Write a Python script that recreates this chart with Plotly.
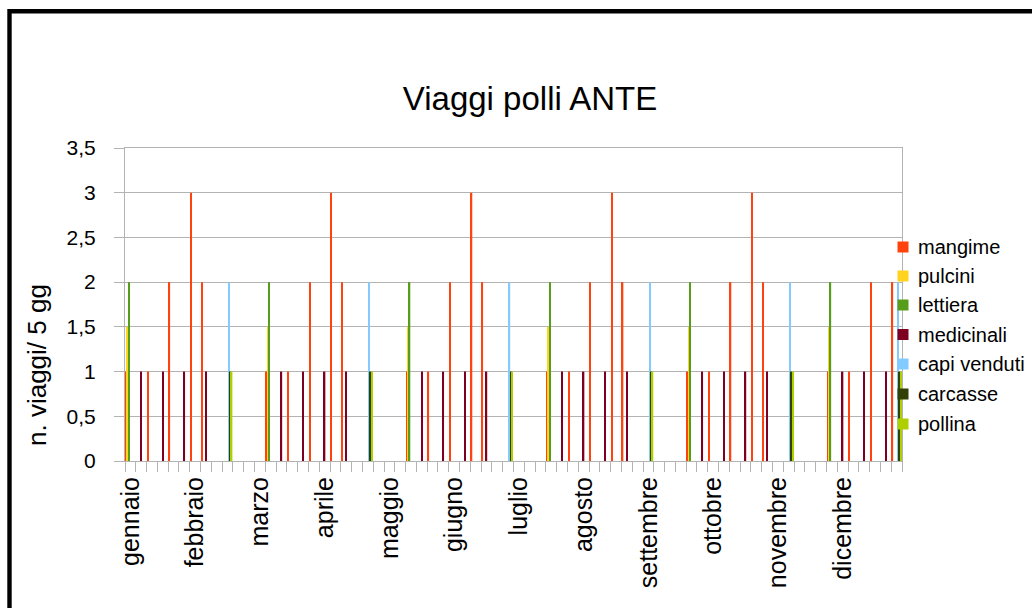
import plotly.graph_objects as go

# 72 periods of 5 days (6 per month)
periods = list(range(72))
month_labels = ["gennaio", "febbraio", "marzo", "aprile", "maggio", "giugno",
                "luglio", "agosto", "settembre", "ottobre", "novembre", "dicembre"]
month_ticks = [0, 6, 12, 18, 24, 30, 36, 42, 48, 54, 60, 66]

mangime = [1, 0, 1, 0, 2, 0, 3, 2, 0, 0, 0, 0, 0,
           1, 0, 1, 0, 2, 0, 3, 2, 0, 0, 0, 0, 0,
           1, 0, 1, 0, 2, 0, 3, 2, 0, 0, 0, 0, 0,
           1, 0, 1, 0, 2, 0, 3, 2, 0, 0, 0, 0, 0,
           1, 0, 1, 0, 2, 0, 3, 2, 0, 0, 0, 0, 0,
           1, 0, 1, 0, 2, 0, 2]
pulcini = [1.5, 0, 0, 0, 0, 0, 0, 0, 0, 0, 0, 0, 0,
           1.5, 0, 0, 0, 0, 0, 0, 0, 0, 0, 0, 0, 0,
           1.5, 0, 0, 0, 0, 0, 0, 0, 0, 0, 0, 0, 0,
           1.5, 0, 0, 0, 0, 0, 0, 0, 0, 0, 0, 0, 0,
           1.5, 0, 0, 0, 0, 0, 0, 0, 0, 0, 0, 0, 0,
           1.5, 0, 0, 0, 0, 0, 0]
lettiera = [2, 0, 0, 0, 0, 0, 0, 0, 0, 0, 0, 0, 0,
            2, 0, 0, 0, 0, 0, 0, 0, 0, 0, 0, 0, 0,
            2, 0, 0, 0, 0, 0, 0, 0, 0, 0, 0, 0, 0,
            2, 0, 0, 0, 0, 0, 0, 0, 0, 0, 0, 0, 0,
            2, 0, 0, 0, 0, 0, 0, 0, 0, 0, 0, 0, 0,
            2, 0, 0, 0, 0, 0, 0]
medicinali = [0, 1, 0, 1, 0, 1, 0, 1, 0, 0, 0, 0, 0,
              0, 1, 0, 1, 0, 1, 0, 1, 0, 0, 0, 0, 0,
              0, 1, 0, 1, 0, 1, 0, 1, 0, 0, 0, 0, 0,
              0, 1, 0, 1, 0, 1, 0, 1, 0, 0, 0, 0, 0,
              0, 1, 0, 1, 0, 1, 0, 1, 0, 0, 0, 0, 0,
              0, 1, 0, 1, 0, 1, 0]
capi_venduti = [0, 0, 0, 0, 0, 0, 0, 0, 0, 2, 0, 0, 0,
                0, 0, 0, 0, 0, 0, 0, 0, 0, 2, 0, 0, 0,
                0, 0, 0, 0, 0, 0, 0, 0, 0, 2, 0, 0, 0,
                0, 0, 0, 0, 0, 0, 0, 0, 0, 2, 0, 0, 0,
                0, 0, 0, 0, 0, 0, 0, 0, 0, 2, 0, 0, 0,
                0, 0, 0, 0, 0, 0, 2]
carcasse = [0, 0, 0, 0, 0, 0, 0, 0, 0, 1, 0, 0, 0,
            0, 0, 0, 0, 0, 0, 0, 0, 0, 1, 0, 0, 0,
            0, 0, 0, 0, 0, 0, 0, 0, 0, 1, 0, 0, 0,
            0, 0, 0, 0, 0, 0, 0, 0, 0, 1, 0, 0, 0,
            0, 0, 0, 0, 0, 0, 0, 0, 0, 1, 0, 0, 0,
            0, 0, 0, 0, 0, 0, 1]
pollina = [0, 0, 0, 0, 0, 0, 0, 0, 0, 1, 0, 0, 0,
           0, 0, 0, 0, 0, 0, 0, 0, 0, 1, 0, 0, 0,
           0, 0, 0, 0, 0, 0, 0, 0, 0, 1, 0, 0, 0,
           0, 0, 0, 0, 0, 0, 0, 0, 0, 1, 0, 0, 0,
           0, 0, 0, 0, 0, 0, 0, 0, 0, 1, 0, 0, 0,
           0, 0, 0, 0, 0, 0, 1]

series_names = ["mangime", "pulcini", "lettiera", "medicinali",
                "capi venduti", "carcasse", "pollina"]
series_values = [mangime, pulcini, lettiera, medicinali,
                 capi_venduti, carcasse, pollina]
series_colors = ["#ff420e", "#ffd320", "#579d1c", "#7e0021",
                 "#83caff", "#314004", "#aecf00"]

FONT = "Liberation Sans, Arial, sans-serif"
GRID = "#b3b3b3"

W, H = 1032, 608
ML, MR, MT, MB = 125, 130, 148, 147
PW, PH = W - ML - MR, H - MT - MB


def px_x(px):
    return (px - ML) / PW


def px_y(py):
    return (H - MB - py) / PH


fig = go.Figure()
for name, vals, color in zip(series_names, series_values, series_colors):
    fig.add_trace(go.Bar(x=periods, y=vals, name=name, showlegend=False,
                         marker=dict(color=color, line=dict(width=0))))

fig.update_layout(
    width=W, height=H, autosize=False,
    margin=dict(l=ML, r=MR, t=MT, b=MB, pad=0),
    paper_bgcolor="white", plot_bgcolor="white",
    barmode="group", bargap=0.1, bargroupgap=0,
    separators=",.",
    font=dict(family=FONT, color="black"),
    title=dict(text="Viaggi polli ANTE", x=530 / W, xanchor="center",
               xref="container", yref="container", y=1 - 98 / H,
               yanchor="middle", font=dict(size=33, family=FONT, color="black")),
    showlegend=False,
)

fig.update_xaxes(
    range=[-0.5, 71.5], tickmode="array", tickvals=month_ticks,
    ticktext=month_labels, tickangle=-90, ticks="",
    tickfont=dict(size=25, family=FONT, color="black"),
    ticklabelstandoff=5,
    showgrid=False, zeroline=False, showline=True, linecolor=GRID,
    linewidth=1, mirror=True,
    minor=dict(tickmode="linear", tick0=-0.5, dtick=1, ticks="outside",
               ticklen=10, tickcolor=GRID, tickwidth=1, showgrid=False),
)
fig.update_yaxes(
    range=[0, 3.5], tick0=0, dtick=0.5, ticks="outside", ticklen=10,
    tickcolor=GRID, tickwidth=1,
    tickfont=dict(size=21, family=FONT, color="black"),
    ticklabelstandoff=14,
    showgrid=True, gridcolor=GRID, gridwidth=1, zeroline=False,
    showline=True, linecolor=GRID, linewidth=1, mirror=True,
)

# y-axis title
fig.add_annotation(text="n. viaggi/ 5 gg", textangle=-90,
                   xref="paper", yref="paper",
                   x=px_x(37), y=px_y(365),
                   xanchor="center", yanchor="middle", showarrow=False,
                   font=dict(size=26, family=FONT, color="black"))

# legend (drawn at fixed pixel positions)
legend_y = [247, 276, 305, 334.5, 364, 394, 424]
for name, color, ly in zip(series_names, series_colors, legend_y):
    fig.add_shape(type="rect", xref="paper", yref="paper",
                  x0=px_x(897.5), x1=px_x(908.5),
                  y0=px_y(ly - 5.5), y1=px_y(ly + 5.5),
                  line=dict(width=0), fillcolor=color, layer="above")
    fig.add_annotation(text=name, xref="paper", yref="paper",
                       x=px_x(916), y=px_y(ly), xanchor="left",
                       yanchor="middle", showarrow=False,
                       font=dict(size=20, family=FONT, color="black"))

# outer frame of the chart
fig.add_shape(type="rect", xref="paper", yref="paper",
              x0=px_x(9.5), x1=px_x(1045),
              y0=px_y(11.3), y1=px_y(625),
              line=dict(color="black", width=4.4), fillcolor="rgba(0,0,0,0)",
              layer="above")

fig.write_html("out.html",
               config={"displayModeBar": False},
               post_script="document.body.style.margin='0px';"
                           "document.body.style.overflow='hidden';")
